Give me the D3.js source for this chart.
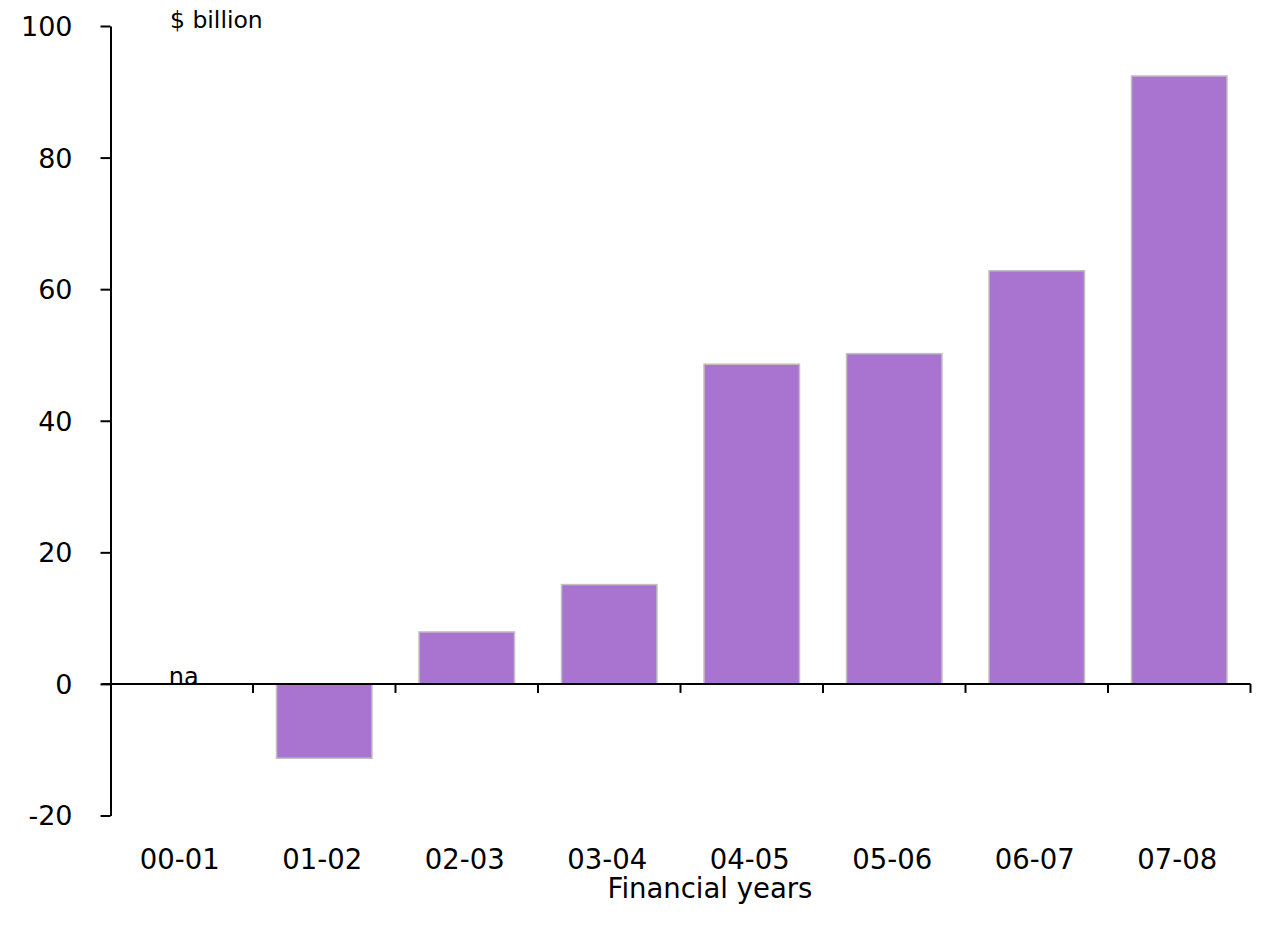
<!DOCTYPE html>
<html>
<head>
<meta charset="utf-8">
<script src="https://cdn.jsdelivr.net/npm/d3@7"></script>
<style>
  body { margin: 0; background: #fff; }
  svg text { font-family: "DejaVu Sans", sans-serif; fill: #000; }
</style>
</head>
<body>
<div id="chart"></div>
<script>
var years = ['00-01', '01-02', '02-03', '03-04', '04-05', '05-06', '06-07', '07-08']
var values = [null, -11.3, 7.9, 15.1, 48.6, 50.2, 62.8, 92.4]
var yTicks = [-20, 0, 20, 40, 60, 80, 100]

var width = 1264, height = 934
var mLeft = 110.5, mRight = 1250.5, mTop = 26, mBottom = 815.5

var svg = d3.select('#chart').append('svg')
  .attr('width', width).attr('height', height)

var x = d3.scaleBand().domain(years).range([mLeft, mRight]).paddingInner(0.33).paddingOuter(0.165)
var xb = d3.scaleBand().domain(years).range([mLeft, mRight])
var y = d3.scaleLinear().domain([-20, 100]).range([mBottom, mTop])

// bars
svg.append('g').selectAll('rect')
  .data(years.map((d, i) => ({year: d, v: values[i]})).filter(d => d.v !== null))
  .enter().append('rect')
    .attr('x', d => x(d.year))
    .attr('width', x.bandwidth())
    .attr('y', d => y(Math.max(0, d.v)))
    .attr('height', d => Math.abs(y(d.v) - y(0)))
    .attr('fill', '#a974d0')
    .attr('stroke', '#c0c0c0')
    .attr('stroke-width', 1.5)

// y axis
var yAxis = svg.append('g')
  .attr('transform', `translate(${mLeft},0)`)
  .call(d3.axisLeft(y).tickValues(yTicks).tickFormat(d => String(d)).tickSize(10).tickSizeOuter(0))
yAxis.select('.domain').attr('stroke', '#000').attr('stroke-width', 2)
yAxis.selectAll('line').attr('stroke', '#000').attr('stroke-width', 2)
yAxis.selectAll('text').style('font-size', '27px').attr('text-anchor', 'end')
  .attr('x', -38).attr('dy', '0.35em')

// x axis at zero
var xAxis = svg.append('g')
  .attr('transform', `translate(0,${y(0)})`)
  .call(d3.axisBottom(xb).tickValues([]).tickSizeOuter(0))
xAxis.select('.domain').attr('stroke', '#000').attr('stroke-width', 2)
  .attr('d', `M${mLeft - 9},0H${mRight}`)
xAxis.selectAll('.xt').data(years).enter().append('line')
  .attr('class', 'xt')
  .attr('x1', d => xb(d) + xb.bandwidth()).attr('x2', d => xb(d) + xb.bandwidth())
  .attr('y1', 0).attr('y2', 9)
  .attr('stroke', '#000').attr('stroke-width', 2)

// category labels under the plot
svg.append('g').selectAll('text').data(years).enter().append('text')
  .attr('x', d => xb(d) + xb.bandwidth() / 2 - 2)
  .attr('y', 869)
  .attr('text-anchor', 'middle')
  .style('font-size', '27.5px')
  .text(d => d)

// na label
years.forEach((d, i) => {
  if (values[i] === null) {
    svg.append('text')
      .attr('x', xb(d) + xb.bandwidth() / 2 + 2)
      .attr('y', y(0) + 1)
      .attr('text-anchor', 'middle')
      .style('font-size', '24px')
      .text('na')
  }
})

svg.append('text').attr('x', 170).attr('y', 28)
  .style('font-size', '23.5px').text('$ billion')

svg.append('text').attr('x', 710).attr('y', 898)
  .attr('text-anchor', 'middle')
  .style('font-size', '27.5px').text('Financial years')
</script>
</body>
</html>
